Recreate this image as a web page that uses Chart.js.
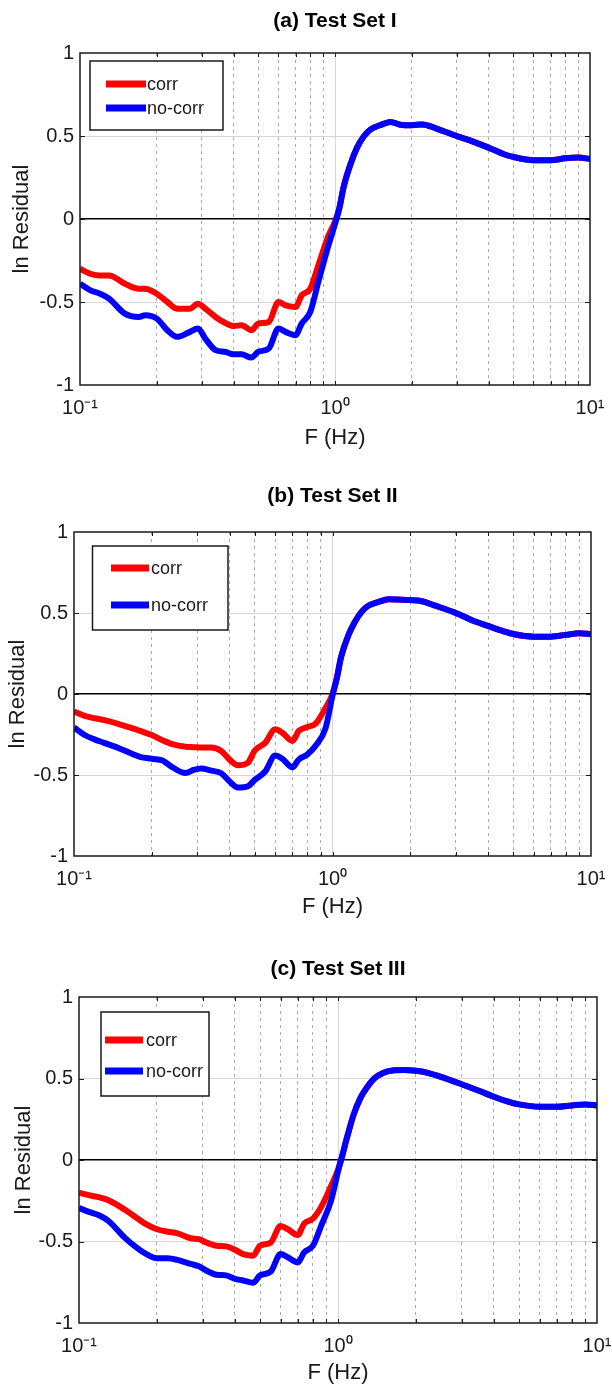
<!DOCTYPE html>
<html>
<head>
<meta charset="utf-8">
<script src="https://cdn.jsdelivr.net/npm/chart.js@4.4.1/dist/chart.umd.min.js"></script>
<style>
  html, body { margin: 0; padding: 0; background: #fff; }
  #page { position: relative; width: 612px; height: 1389px; }
  canvas { position: absolute; left: 0; }
</style>
</head>
<body>
<div id="page">
  <canvas id="chartA" width="612" height="460" style="top:0px"></canvas>
  <canvas id="chartB" width="612" height="470" style="top:460px"></canvas>
  <canvas id="chartC" width="612" height="459" style="top:930px"></canvas>
</div>
<script>
// frequencies (Hz) shared by all three panels
const freqHz = [0.1, 0.11, 0.12, 0.13, 0.15, 0.17, 0.18, 0.2, 0.22, 0.24, 0.27, 0.29, 0.31, 0.34, 0.37,
  0.4, 0.43, 0.47, 0.5, 0.55, 0.6, 0.64, 0.7, 0.74, 0.8, 0.86, 0.94,
  1.0, 1.04, 1.08, 1.15, 1.22, 1.3, 1.38, 1.5, 1.65, 1.8, 2.0, 2.2, 2.5, 3.0, 3.5, 4.0, 4.6, 5, 6, 7, 8, 9, 10];

const seriesNames = ['corr', 'no-corr'];
const panelTitles = ['(a) Test Set I', '(b) Test Set II', '(c) Test Set III'];

// (a) Test Set I
const corrA = [-0.30, -0.33, -0.34, -0.34, -0.39, -0.42, -0.42, -0.45, -0.50, -0.54, -0.54, -0.51, -0.54, -0.59, -0.625,
  -0.645, -0.64, -0.67, -0.63, -0.62, -0.50, -0.52, -0.53, -0.46, -0.42, -0.28, -0.105,
  -0.015, 0.065, 0.19, 0.33, 0.43, 0.50, 0.54, 0.565, 0.585, 0.568, 0.565, 0.57, 0.545, 0.50, 0.465, 0.43, 0.39, 0.374, 0.354, 0.354, 0.366, 0.37, 0.362];
const noCorrA = [-0.39, -0.43, -0.45, -0.48, -0.57, -0.59, -0.58, -0.60, -0.67, -0.71, -0.68, -0.66, -0.72, -0.79, -0.80,
  -0.815, -0.815, -0.835, -0.80, -0.78, -0.66, -0.68, -0.70, -0.63, -0.56, -0.38, -0.165,
  -0.03, 0.065, 0.19, 0.33, 0.43, 0.50, 0.54, 0.565, 0.585, 0.568, 0.565, 0.57, 0.545, 0.50, 0.465, 0.43, 0.39, 0.374, 0.354, 0.354, 0.366, 0.37, 0.362];

// (b) Test Set II
const corrB = [-0.108, -0.135, -0.15, -0.16, -0.187, -0.214, -0.228, -0.253, -0.286, -0.31, -0.326, -0.328, -0.33, -0.33, -0.35,
  -0.405, -0.44, -0.425, -0.35, -0.30, -0.218, -0.24, -0.29, -0.228, -0.203, -0.183, -0.085,
  0.0, 0.10, 0.23, 0.36, 0.445, 0.51, 0.546, 0.567, 0.585, 0.583, 0.58, 0.574, 0.545, 0.50, 0.452, 0.42, 0.387, 0.37, 0.354, 0.354, 0.365, 0.375, 0.369];
const noCorrB = [-0.207, -0.253, -0.28, -0.30, -0.336, -0.373, -0.388, -0.40, -0.41, -0.452, -0.488, -0.469, -0.46, -0.473, -0.488,
  -0.54, -0.577, -0.57, -0.53, -0.477, -0.38, -0.40, -0.452, -0.405, -0.373, -0.32, -0.21,
  -0.01, 0.10, 0.23, 0.36, 0.445, 0.51, 0.546, 0.567, 0.585, 0.583, 0.58, 0.574, 0.545, 0.50, 0.452, 0.42, 0.387, 0.37, 0.354, 0.354, 0.365, 0.375, 0.369];

// (c) Test Set III
const corrC = [-0.20, -0.217, -0.229, -0.247, -0.304, -0.364, -0.39, -0.425, -0.44, -0.45, -0.48, -0.486, -0.506, -0.526, -0.53,
  -0.55, -0.577, -0.587, -0.526, -0.506, -0.405, -0.425, -0.46, -0.39, -0.36, -0.29, -0.16,
  -0.06, 0.03, 0.13, 0.28, 0.38, 0.45, 0.50, 0.535, 0.55, 0.552, 0.547, 0.536, 0.51, 0.465, 0.425, 0.388, 0.355, 0.341, 0.326, 0.326, 0.335, 0.341, 0.335];
const noCorrC = [-0.294, -0.32, -0.34, -0.374, -0.476, -0.547, -0.573, -0.603, -0.603, -0.613, -0.638, -0.652, -0.678, -0.704, -0.708,
  -0.729, -0.739, -0.753, -0.708, -0.684, -0.577, -0.597, -0.628, -0.567, -0.526, -0.405, -0.25,
  -0.07, 0.03, 0.13, 0.28, 0.38, 0.45, 0.50, 0.535, 0.55, 0.552, 0.547, 0.536, 0.51, 0.465, 0.425, 0.388, 0.355, 0.341, 0.326, 0.326, 0.335, 0.341, 0.335];

const xTickValues = [0.1, 0.2, 0.3, 0.4, 0.5, 0.6, 0.7, 0.8, 0.9, 1, 2, 3, 4, 5, 6, 7, 8, 9, 10];
const xTickLabels = { 0.1: '10⁻¹', 1: '10⁰', 10: '10¹' };
const yTickValues = [-1, -0.5, 0, 0.5, 1];

const FONT = '"Liberation Sans", Arial, Helvetica, sans-serif';
const INK = '#1a1a1a';

// matlab style: box, inward ticks, boxed legend
const boxPlugin = {
  id: 'matlabBox',
  afterDraw(chart, args, opts) {
    const { ctx, chartArea: a, scales: { x, y } } = chart;
    ctx.save();
    ctx.strokeStyle = INK;
    ctx.lineWidth = 1;
    ctx.beginPath();
    xTickValues.forEach(v => {
      if (v <= 0.1 || v >= 10) return;
      const px = Math.round(x.getPixelForValue(v)) + 0.5;
      ctx.moveTo(px, a.top); ctx.lineTo(px, a.top + 4);
      ctx.moveTo(px, a.bottom); ctx.lineTo(px, a.bottom - 4);
    });
    yTickValues.forEach(v => {
      if (Math.abs(v) === 1) return;
      const py = Math.round(y.getPixelForValue(v)) + 0.5;
      ctx.moveTo(a.left, py); ctx.lineTo(a.left + 5, py);
      ctx.moveTo(a.right, py); ctx.lineTo(a.right - 5, py);
    });
    ctx.stroke();
    ctx.lineWidth = 1.5;
    ctx.strokeRect(a.left, a.top, a.right - a.left, a.bottom - a.top);

    // legend
    ctx.fillStyle = '#fff';
    ctx.fillRect(opts.x, opts.y, opts.w, opts.h);
    ctx.strokeRect(opts.x, opts.y, opts.w, opts.h);
    ctx.font = '18px ' + FONT;
    ctx.textBaseline = 'middle';
    chart.data.datasets.forEach((ds, i) => {
      const ry = opts.rows[i];
      ctx.strokeStyle = ds.borderColor;
      ctx.lineWidth = 7;
      ctx.beginPath();
      ctx.moveTo(opts.lineX0, ry); ctx.lineTo(opts.lineX1, ry);
      ctx.stroke();
      ctx.fillStyle = INK;
      ctx.fillText(ds.label, opts.textX, ry + 1);
    });
    ctx.restore();
  }
};

function makeChart(id, title, corr, noCorr, lay) {
  return new Chart(document.getElementById(id), {
    type: 'line',
    data: {
      datasets: [
        { label: seriesNames[0], data: freqHz.map((f, i) => ({ x: f, y: corr[i] })),
          borderColor: '#ff0000', borderWidth: 6, pointRadius: 0, cubicInterpolationMode: 'monotone', order: 2 },
        { label: seriesNames[1], data: freqHz.map((f, i) => ({ x: f, y: noCorr[i] })),
          borderColor: '#0000ff', borderWidth: 6, pointRadius: 0, cubicInterpolationMode: 'monotone', order: 1 }
      ]
    },
    options: {
      responsive: false,
      animation: false,
      layout: { padding: { left: 0, right: lay.padRight, top: 0, bottom: 0 } },
      plugins: {
        legend: { display: false },
        tooltip: { enabled: false },
        title: {
          display: true, text: title, color: '#000', fullSize: false,
          font: { family: FONT, size: 21, weight: 'bold' },
          padding: { top: lay.titleTop, bottom: lay.titleBottom }
        },
        matlabBox: lay.legend
      },
      scales: {
        x: {
          type: 'logarithmic', min: 0.1, max: 10,
          afterBuildTicks: s => { s.ticks = xTickValues.map(v => ({ value: v })); },
          afterFit: s => { s.height = lay.xHeight; s.paddingLeft = 0; s.paddingRight = 0; },
          ticks: {
            autoSkip: false, maxRotation: 0, minRotation: 0, padding: 11, color: INK,
            font: { family: FONT, size: 20 },
            callback: v => xTickLabels[v] || ''
          },
          grid: {
            drawTicks: false, lineWidth: 1,
            color: c => {
              const v = c.tick ? c.tick.value : null;
              if (v === 0.1 || v === 10) return 'rgba(0,0,0,0)';
              return v === 1 ? '#d6d6d6' : '#a9a9a9';
            }
          },
          border: { display: false, dash: c => (c.tick && c.tick.value === 1) ? [] : [3, 4] },
          title: {
            display: true, text: 'F (Hz)', color: INK,
            font: { family: FONT, size: 22 },
            padding: { top: 0, bottom: lay.xTitleBottom }
          }
        },
        y: {
          min: -1, max: 1,
          afterBuildTicks: s => { s.ticks = yTickValues.map(v => ({ value: v })); },
          afterFit: s => { s.width = lay.yWidth; s.paddingTop = 0; s.paddingBottom = 0; },
          ticks: { padding: 6, color: INK, font: { family: FONT, size: 20 }, callback: v => String(v) },
          grid: {
            drawTicks: false,
            color: c => {
              const v = c.tick ? c.tick.value : null;
              if (v === 0) return '#000';
              if (Math.abs(v) === 0.5) return '#d6d6d6';
              return 'rgba(0,0,0,0)';
            },
            lineWidth: c => (c.tick && c.tick.value === 0) ? 1.5 : 1
          },
          border: { display: false },
          title: {
            display: true, text: 'ln Residual', color: INK,
            font: { family: FONT, size: 22 },
            padding: { top: lay.yTitlePad, bottom: 0 }
          }
        }
      }
    },
    plugins: [boxPlugin]
  });
}

makeChart('chartA', panelTitles[0], corrA, noCorrA, {
  padRight: 22, titleTop: 9.1, titleBottom: 18.7, xHeight: 75, xTitleBottom: 8.5, yWidth: 80, yTitlePad: 8.4,
  legend: { x: 90, y: 61, w: 133, h: 69, lineX0: 106, lineX1: 146, rows: [84, 108], textX: 147 }
});
makeChart('chartB', panelTitles[1], corrB, noCorrB, {
  padRight: 21, titleTop: 24.1, titleBottom: 22.7, xHeight: 74, xTitleBottom: 10.1, yWidth: 74, yTitlePad: 4.4,
  legend: { x: 92.5, y: 86, w: 135.5, h: 84, lineX0: 111, lineX1: 149, rows: [108, 145], textX: 151 }
});
makeChart('chartC', panelTitles[2], corrC, noCorrC, {
  padRight: 15, titleTop: 26.7, titleBottom: 15.1, xHeight: 66, xTitleBottom: 2.5, yWidth: 79, yTitlePad: 10.3,
  legend: { x: 101, y: 82, w: 108, h: 84, lineX0: 105, lineX1: 143, rows: [110, 141], textX: 146 }
});
</script>
</body>
</html>
